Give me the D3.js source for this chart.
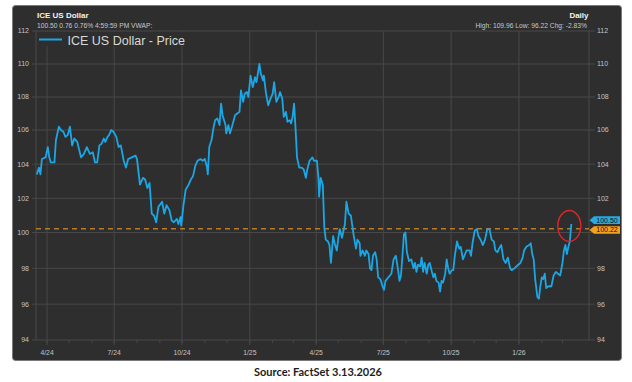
<!DOCTYPE html>
<html>
<head>
<meta charset="utf-8">
<script src="https://cdn.jsdelivr.net/npm/d3@7"></script>
<style>
  body { margin: 0; background: #fff; }
  svg { display: block; font-family: "Liberation Sans", Arial, sans-serif; }
</style>
</head>
<body>
<svg id="chart" width="632" height="382"></svg>
<script>
// ICE US Dollar, daily closes
const dates = [
  "2024-03-18","2024-03-21","2024-03-23","2024-03-25","2024-03-30","2024-04-02","2024-04-04","2024-04-06","2024-04-11","2024-04-13",
  "2024-04-17","2024-04-20","2024-04-23","2024-04-26","2024-04-29","2024-05-02","2024-05-05","2024-05-08","2024-05-12","2024-05-17",
  "2024-05-21","2024-05-25","2024-05-29","2024-06-02","2024-06-05","2024-06-08","2024-06-11","2024-06-14","2024-06-17","2024-06-19",
  "2024-06-22","2024-06-24","2024-06-27","2024-06-30","2024-07-04","2024-07-07","2024-07-10","2024-07-14","2024-07-17","2024-07-20",
  "2024-07-25","2024-07-30","2024-08-01","2024-08-05","2024-08-09","2024-08-12","2024-08-15","2024-08-18","2024-08-21","2024-08-24",
  "2024-08-27","2024-08-30","2024-09-04","2024-09-07","2024-09-10","2024-09-14","2024-09-17","2024-09-20","2024-09-24","2024-09-26",
  "2024-09-29","2024-09-30","2024-10-03","2024-10-06","2024-10-10","2024-10-13","2024-10-16","2024-10-19","2024-10-22","2024-10-26",
  "2024-10-29","2024-11-01","2024-11-04","2024-11-05","2024-11-07","2024-11-10","2024-11-13","2024-11-15","2024-11-18","2024-11-21",
  "2024-11-23","2024-11-25","2024-11-29","2024-11-30","2024-12-03","2024-12-05","2024-12-09","2024-12-12","2024-12-15","2024-12-18",
  "2024-12-20","2024-12-23","2024-12-25","2024-12-28","2024-12-30","2025-01-02","2025-01-05","2025-01-08","2025-01-10","2025-01-14",
  "2025-01-16","2025-01-19","2025-01-20","2025-01-23","2025-01-26","2025-01-29","2025-02-01","2025-02-03","2025-02-06","2025-02-09",
  "2025-02-11","2025-02-14","2025-02-16","2025-02-19","2025-02-21","2025-02-24","2025-02-26","2025-02-28","2025-03-02","2025-03-04",
  "2025-03-06","2025-03-09","2025-03-12","2025-03-15","2025-03-18","2025-03-20","2025-03-23","2025-03-27","2025-03-29","2025-04-02",
  "2025-04-04","2025-04-05","2025-04-07","2025-04-10","2025-04-12","2025-04-14","2025-04-17","2025-04-19","2025-04-21","2025-04-24",
  "2025-04-26","2025-04-29","2025-05-01","2025-05-03","2025-05-06","2025-05-08","2025-05-10","2025-05-12","2025-05-15","2025-05-18",
  "2025-05-21","2025-05-22","2025-05-25","2025-05-27","2025-05-30","2025-05-31","2025-06-03","2025-06-06","2025-06-08","2025-06-11",
  "2025-06-13","2025-06-15","2025-06-17","2025-06-20","2025-06-22","2025-06-24","2025-06-27","2025-06-30","2025-07-02","2025-07-04",
  "2025-07-08","2025-07-12","2025-07-15","2025-07-18","2025-07-20","2025-07-23","2025-07-25","2025-07-27","2025-07-29","2025-07-31",
  "2025-08-02","2025-08-05","2025-08-08","2025-08-11","2025-08-13","2025-08-15","2025-08-17","2025-08-20","2025-08-22","2025-08-24",
  "2025-08-26","2025-08-29","2025-08-31","2025-09-02","2025-09-05","2025-09-07","2025-09-09","2025-09-11","2025-09-14","2025-09-16",
  "2025-09-18","2025-09-20","2025-09-23","2025-09-25","2025-09-27","2025-09-29","2025-10-02","2025-10-04","2025-10-06","2025-10-09",
  "2025-10-12","2025-10-14","2025-10-17","2025-10-20","2025-10-22","2025-10-26","2025-10-28","2025-10-30","2025-11-02","2025-11-05",
  "2025-11-07","2025-11-10","2025-11-13","2025-11-16","2025-11-19","2025-11-22","2025-11-25","2025-11-28","2025-11-30","2025-12-03",
  "2025-12-05","2025-12-08","2025-12-11","2025-12-14","2025-12-17","2025-12-20","2025-12-22","2025-12-26","2025-12-31","2026-01-03",
  "2026-01-06","2026-01-08","2026-01-11","2026-01-15","2026-01-17","2026-01-19","2026-01-21","2026-01-23","2026-01-26","2026-01-28",
  "2026-01-30","2026-02-01","2026-02-03","2026-02-05","2026-02-07","2026-02-10","2026-02-14","2026-02-17","2026-02-20","2026-02-23",
  "2026-02-26","2026-03-01","2026-03-03","2026-03-05","2026-03-07","2026-03-09","2026-03-11","2026-03-13"
];
const prices = [
  103.4,103.8,103.4,104.3,104.4,105.0,104.4,104.1,104.1,105.4,
  106.2,106.0,105.9,105.6,105.7,106.2,105.1,105.5,105.3,104.4,
  104.6,105.0,104.6,104.7,104.1,104.1,105.1,105.2,105.5,105.3,
  105.6,105.7,106.0,105.9,105.6,105.0,105.1,104.2,103.8,104.3,
  104.4,104.5,104.3,102.8,103.2,103.1,102.6,102.9,101.1,101.0,
  100.6,101.5,101.8,101.1,101.6,101.3,100.7,100.6,100.8,100.5,
  100.9,100.4,101.6,102.5,102.8,103.1,103.3,103.9,104.2,104.3,
  104.2,104.3,103.8,103.4,105.0,105.4,106.2,106.6,106.7,106.3,
  107.6,106.9,106.3,105.8,106.3,105.8,106.4,106.9,107.0,107.1,
  108.4,107.7,108.2,108.3,108.0,109.3,108.6,109.2,108.9,110.0,
  109.4,109.0,109.3,108.2,107.5,107.9,108.2,108.9,107.7,108.0,
  108.3,107.9,106.8,107.1,106.5,106.6,106.4,106.8,107.6,106.1,
  104.4,103.8,103.8,103.7,103.2,103.7,104.2,104.4,104.2,104.2,
  103.2,102.1,103.2,102.8,100.3,99.6,99.5,99.3,98.3,99.8,
  99.4,99.0,99.7,100.2,99.7,100.1,100.5,101.8,101.1,101.0,
  100.1,99.8,99.1,99.6,99.4,98.7,99.0,98.7,99.0,98.8,
  98.0,97.9,98.7,98.9,98.5,97.5,97.4,97.0,96.8,97.3,
  97.5,97.7,98.5,98.7,98.2,97.3,97.6,98.7,99.9,100.0,
  98.9,98.4,98.5,98.0,98.3,97.8,98.2,98.1,98.6,97.8,
  98.3,97.7,98.2,98.3,97.8,97.5,97.7,97.3,97.2,96.7,
  97.3,97.2,97.7,98.5,98.0,97.7,97.9,97.9,98.7,99.5,
  99.1,99.2,98.5,98.8,99.0,99.0,98.7,99.4,100.1,100.2,
  99.8,99.6,99.3,99.6,100.2,100.2,99.6,99.5,99.0,98.9,
  99.1,99.3,98.5,98.3,98.6,98.0,97.9,98.0,98.2,98.3,
  98.6,99.0,99.2,99.3,99.4,98.8,98.5,97.4,96.4,96.3,
  97.0,97.5,97.4,97.7,96.9,97.0,97.0,97.6,97.8,97.7,
  97.6,98.3,99.0,99.3,98.8,99.2,99.5,100.5
];
const yTicks = [94, 96, 98, 100, 102, 104, 106, 108, 110, 112];
const xDomain = ["2024-03-17", "2026-04-06"];
const lastPrice = 100.50;
const refLevel = 100.22;
const title = "ICE US Dollar";
const quoteLine = "100.50 0.76 0.76% 4:59:59 PM VWAP:";
const frequency = "Daily";
const statsLine = "High: 109.96 Low: 96.22 Chg: -2.83%";
const legendLabel = "ICE US Dollar - Price";
const source = "Source: FactSet 3.13.2026";

var panelFill = "#2e2e2e",
    gridColor = "#484848",
    labelColor = "#c4c4c4",
    lineColor = "#1ba7e6",
    refColor = "#b67a2c";

const svg = d3.select("#chart");
const parse = d3.timeParse("%Y-%m-%d");
const series = dates.map((d, i) => ({ date: parse(d), price: prices[i] }));
const last = series[series.length - 1];

const plot = { left: 36, right: 589, top: 31, bottom: 340 };

const x = d3.scaleTime()
    .domain(xDomain.map(parse))
    .range([plot.left, plot.right]);
// the screenshot is slightly stretched vertically, so the scale is piecewise
const y = d3.scaleLinear()
    .domain([94, 100, 106, 112])
    .range([plot.bottom, 232.5, 130, plot.top]);

// dark panel
svg.append("rect")
    .attr("x", 12.5).attr("y", 5.5)
    .attr("width", 609).attr("height", 355)
    .attr("rx", 3)
    .style("fill", panelFill)
    .style("stroke", "#7a7a7a");

// horizontal grid + y labels both sides
svg.append("g").selectAll("line")
    .data(yTicks)
    .join("line")
    .attr("x1", 32).attr("x2", 595)
    .attr("y1", d => y(d)).attr("y2", d => y(d))
    .style("stroke", gridColor);

const yLabels = svg.append("g")
    .style("font-size", "7px")
    .style("fill", labelColor);
yLabels.selectAll("text.left")
    .data(yTicks)
    .join("text")
    .attr("class", "left")
    .attr("x", 29).attr("y", d => y(d))
    .attr("dy", "0.35em")
    .attr("text-anchor", "end")
    .text(d => d);
// on the right, the 100 label is hidden behind the value tags
yLabels.selectAll("text.right")
    .data(yTicks.filter(d => d !== 100))
    .join("text")
    .attr("class", "right")
    .attr("x", 597).attr("y", d => y(d))
    .attr("dy", "0.35em")
    .text(d => d);

// vertical grid (quarters) plus frame sides
const quarters = x.ticks(d3.timeMonth.every(3)).filter(d => d <= last.date);
const months = x.ticks(d3.timeMonth.every(1)).filter(d => d <= last.date);
svg.append("g").selectAll("line")
    .data(quarters)
    .join("line")
    .attr("x1", d => x(d)).attr("x2", d => x(d))
    .attr("y1", plot.top).attr("y2", plot.bottom + 5)
    .style("stroke", gridColor);
svg.append("g").selectAll("line")
    .data(months)
    .join("line")
    .attr("x1", d => x(d)).attr("x2", d => x(d))
    .attr("y1", plot.bottom).attr("y2", plot.bottom + 3)
    .style("stroke", gridColor);
[plot.left, plot.right].forEach(function(px) {
    svg.append("line")
        .attr("x1", px).attr("x2", px)
        .attr("y1", plot.top).attr("y2", plot.bottom)
        .style("stroke", gridColor);
});

svg.append("g").selectAll("text")
    .data(quarters)
    .join("text")
    .attr("x", d => x(d)).attr("y", 355)
    .attr("text-anchor", "middle")
    .style("font-size", "6.8px")
    .style("fill", labelColor)
    .text(d3.timeFormat("%-m/%y"));

// reference level
svg.append("line")
    .attr("x1", plot.left).attr("x2", plot.right)
    .attr("y1", y(refLevel)).attr("y2", y(refLevel))
    .style("stroke", refColor)
    .style("stroke-width", 1.6)
    .style("stroke-dasharray", "5,4");

// price line
svg.append("path")
    .datum(series)
    .attr("d", d3.line().x(d => x(d.date)).y(d => y(d.price)))
    .style("fill", "none")
    .style("stroke", lineColor)
    .style("stroke-width", 1.8)
    .style("stroke-linejoin", "round");

// header
svg.append("text").attr("x", 37).attr("y", 18)
    .style("font-size", "8px").style("font-weight", "bold").style("fill", "#f2f2f2")
    .text(title);
svg.append("text").attr("x", 37).attr("y", 28.3)
    .style("font-size", "6.7px").style("fill", "#c8c8c8")
    .text(quoteLine);
svg.append("text").attr("x", 588.5).attr("y", 18)
    .attr("text-anchor", "end")
    .style("font-size", "8px").style("font-weight", "bold").style("fill", "#f2f2f2")
    .text(frequency);
svg.append("text").attr("x", 587).attr("y", 28.3)
    .attr("text-anchor", "end")
    .style("font-size", "6.7px").style("fill", "#c8c8c8")
    .text(statsLine);

// legend box sits over the top of the grid
svg.append("rect")
    .attr("x", 37).attr("y", 32)
    .attr("width", 160).attr("height", 14)
    .style("fill", panelFill);
svg.append("line")
    .attr("x1", 39).attr("x2", 62).attr("y1", 39.5).attr("y2", 39.5)
    .style("stroke", lineColor).style("stroke-width", 2);
svg.append("text").attr("x", 67.5).attr("y", 44.5)
    .style("font-size", "12.5px").style("fill", "#d9d9d9")
    .text(legendLabel);

// value tags on the right axis
function valueTag(cy, fill, label) {
    var g = svg.append("g");
    g.append("path")
        .attr("d", "M589.5," + cy + "L594," + (cy - 3.8) + "H620V" + (cy + 3.8) + "H594Z")
        .style("fill", fill);
    g.append("text")
        .attr("x", 607).attr("y", cy)
        .attr("dy", "0.35em")
        .attr("text-anchor", "middle")
        .style("font-size", "7px")
        .style("fill", "#111")
        .text(label);
}
valueTag(y(lastPrice) - 3.8, "#2aaae2", d3.format(".2f")(lastPrice));
valueTag(y(refLevel) + 1.2, "#f3a21f", d3.format(".2f")(refLevel));

// red highlight around the latest print
svg.append("ellipse")
    .attr("cx", x(last.date) - 2).attr("cy", y(last.price) + 2)
    .attr("rx", 11.5).attr("ry", 15.5)
    .style("fill", "none")
    .style("stroke", "#e0262a")
    .style("stroke-width", 1.4);

// caption
svg.append("text")
    .attr("x", 318).attr("y", 375.5)
    .attr("text-anchor", "middle")
    .style("font-family", "Lato, 'Open Sans', sans-serif")
    .style("font-size", "11px").style("font-weight", "bold")
    .style("fill", "#1c1c1c")
    .text(source);
</script>
</body>
</html>
